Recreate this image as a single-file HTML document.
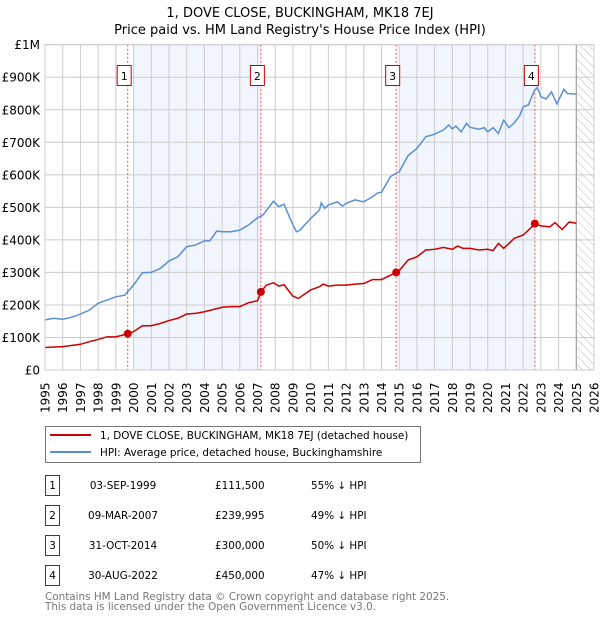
<!DOCTYPE html>
<html><head><meta charset="utf-8"><style>
body{margin:0;background:#fff;font-family:"DejaVu Sans","Liberation Sans",sans-serif;}
#wrap{position:relative;width:600px;height:620px;overflow:hidden;}
</style></head><body>
<div id="wrap">
<svg id="chart" width="600" height="620" xmlns="http://www.w3.org/2000/svg">
<defs><pattern id="hatch" width="6" height="6" patternUnits="userSpaceOnUse" patternTransform="rotate(-45)"><line x1="0" y1="0" x2="0" y2="6" stroke="#bbb" stroke-width="1"/></pattern></defs>
<text x="300" y="17" text-anchor="middle" font-size="13" fill="#000">1, DOVE CLOSE, BUCKINGHAM, MK18 7EJ</text>
<text x="300" y="34" text-anchor="middle" font-size="13" fill="#000">Price paid vs. HM Land Registry's House Price Index (HPI)</text>
<g id="plot"></g>
<g>
<rect x="45.5" y="426.5" width="375" height="36" fill="#fff" stroke="#777"/>
<line x1="50" y1="435" x2="91" y2="435" stroke="#cc0000" stroke-width="2"/>
<text x="100" y="439" font-size="10.4">1, DOVE CLOSE, BUCKINGHAM, MK18 7EJ (detached house)</text>
<line x1="50" y1="452" x2="91" y2="452" stroke="#5b8fd4" stroke-width="2"/>
<text x="100" y="456" font-size="10.4">HPI: Average price, detached house, Buckinghamshire</text>
</g>
<g id="table" font-size="10.4"></g>
<text x="45" y="600" font-size="10.4" fill="#777">Contains HM Land Registry data © Crown copyright and database right 2025.</text>
<text x="45" y="610" font-size="10.4" fill="#777">This data is licensed under the Open Government Licence v3.0.</text>
</svg>
</div>
<script>
const yTicks=[0,100,200,300,400,500,600,700,800,900,1000];
const yTickLabels=["£0","£100K","£200K","£300K","£400K","£500K","£600K","£700K","£800K","£900K","£1M"];
const xYears=[1995,1996,1997,1998,1999,2000,2001,2002,2003,2004,2005,2006,2007,2008,2009,2010,2011,2012,2013,2014,2015,2016,2017,2018,2019,2020,2021,2022,2023,2024,2025,2026];
const hpiT=[1995,1995.5,1996,1996.5,1997,1997.5,1998,1998.5,1999,1999.5,1999.67,2000,2000.5,2001,2001.5,2002,2002.5,2003,2003.5,2004,2004.3,2004.7,2005,2005.5,2006,2006.5,2007,2007.3,2007.6,2007.9,2008.2,2008.5,2008.8,2009,2009.2,2009.4,2010,2010.5,2010.6,2010.8,2011,2011.5,2011.8,2012,2012.5,2013,2013.5,2013.8,2014,2014.5,2014.83,2015,2015.5,2016,2016.5,2017,2017.5,2017.8,2018,2018.2,2018.5,2018.8,2019,2019.5,2019.8,2020,2020.3,2020.6,2020.9,2021.2,2021.5,2021.8,2022,2022.3,2022.6,2022.8,2023,2023.3,2023.6,2023.9,2024.3,2024.5,2025];
const hpiV=[154,159,156,162,172,184,205,215,225,230,241,261,299,300,312,335,348,379,384,397,397,427,425,425,430,446,468,476,497,519,502,510,471,446,425,430,466,492,514,497,507,517,504,512,523,517,533,545,546,594,605,609,659,681,717,725,738,753,741,750,732,758,746,740,745,732,745,727,768,745,760,781,809,815,855,869,840,833,855,818,863,850,848];
const ppT=[1995,1996,1997,1997.5,1998,1998.5,1999,1999.67,2000,2000.5,2001,2001.5,2002,2002.5,2003,2003.5,2004,2004.5,2005,2005.5,2006,2006.5,2007,2007.19,2007.5,2007.9,2008.2,2008.5,2008.8,2009,2009.3,2010,2010.5,2010.7,2011,2011.5,2012,2012.5,2013,2013.5,2014,2014.83,2015,2015.5,2016,2016.5,2017,2017.5,2018,2018.3,2018.6,2019,2019.5,2020,2020.3,2020.6,2020.9,2021.2,2021.5,2022,2022.3,2022.67,2023,2023.5,2023.8,2024.2,2024.6,2025];
const ppV=[69,72,79,87,94,102,102,111.5,118,136,136,143,152,159,172,174,179,186,193,195,195,207,213,240,261,268,258,262,241,227,220,246,256,264,258,261,261,264,266,278,278,300,305,338,348,369,371,377,371,381,374,374,369,371,367,389,374,389,405,415,430,450,443,440,453,432,455,451];
const saleT=[1999.67,2007.19,2014.83,2022.66];
const saleV=[111.5,239.995,300,450];
const saleLabels=["1","2","3","4"];
const saleDates=["03-SEP-1999","09-MAR-2007","31-OCT-2014","30-AUG-2022"];
const salePrices=["£111,500","£239,995","£300,000","£450,000"];
const saleDiffs=["55% ↓ HPI","49% ↓ HPI","50% ↓ HPI","47% ↓ HPI"];
const shadeRanges=[[2000,2007.19],[2015,2022.66]];

const NS="http://www.w3.org/2000/svg";
const X0=45,X1=594,Y0=370,Y1=44.7;
const xS=t=>X0+(t-1995)*(X1-X0)/31;
const yS=v=>Y0-v*(Y0-Y1)/1000;
function mk(tag,attrs,parent){const e=document.createElementNS(NS,tag);for(const k in attrs)e.setAttribute(k,attrs[k]);parent.appendChild(e);return e;}
const g=document.getElementById('plot');
shadeRanges.forEach(r=>{const e=mk('rect',{x:xS(r[0]),y:Y1,width:xS(r[1])-xS(r[0]),height:Y0-Y1,fill:'#eef3fc',opacity:0.8},g);

});
yTicks.forEach((v,i)=>{const l=mk('line',{x1:X0,x2:X1,y1:yS(v),y2:yS(v),stroke:'#ccc'},g);


const t=mk('text',{x:40,y:yS(v)+4.5,'text-anchor':'end','font-size':12},g);t.textContent=yTickLabels[i];

});
xYears.forEach(y=>{const l=mk('line',{x1:xS(y),x2:xS(y),y1:Y1,y2:Y0,stroke:'#ccc'},g);


const t=mk('text',{transform:`translate(${xS(y)+4.5},413) rotate(-90)`,'font-size':12},g);t.textContent=y;

});
const h=mk('rect',{x:xS(2025),y:Y1,width:X1-xS(2025),height:Y0-Y1,fill:'url(#hatch)'},g);


const hl=mk('line',{x1:xS(2025),x2:xS(2025),y1:Y1,y2:Y0,stroke:'#999','stroke-width':1},g);


saleT.forEach((t,i)=>{const l=mk('line',{x1:xS(t),x2:xS(t),y1:Y1,y2:Y0,stroke:'#e55','stroke-dasharray':'2,2','stroke-width':1},g);

});
const hp=mk('polyline',{points:hpiT.map((t,i)=>xS(t)+','+yS(hpiV[i])).join(' '),fill:'none',stroke:'#5b8fd4','stroke-width':1.5},g);


const pp=mk('polyline',{points:ppT.map((t,i)=>xS(t)+','+yS(ppV[i])).join(' '),fill:'none',stroke:'#cc0000','stroke-width':1.5},g);


saleT.forEach((t,i)=>{const c=mk('circle',{cx:xS(t),cy:yS(saleV[i]),r:4,fill:'#cc0000'},g);


const b=mk('rect',{x:xS(t)-10.5,y:65.5,width:14,height:20,fill:'#fff',stroke:'#cc0000'},g);


const tx=mk('text',{x:xS(t)-3.5,y:80,'text-anchor':'middle','font-size':11},g);tx.textContent=saleLabels[i];

});
mk('rect',{x:X0,y:Y1,width:X1-X0,height:Y0-Y1,fill:'none',stroke:'#ccc'},g);
const tb=document.getElementById('table');
saleLabels.forEach((s,i)=>{const cy=485+i*30;
const b=mk('rect',{x:45.5,y:cy-9.5,width:14,height:20,fill:'#fff',stroke:'#cc0000'},tb);


const cells=[[52.5,s,'middle'],[123,saleDates[i],'middle'],[215,salePrices[i],'start'],[311,saleDiffs[i],'start']];
cells.forEach(c=>{const t=mk('text',{x:c[0],y:cy+4,'text-anchor':c[2]},tb);t.textContent=c[1];

});});
</script>
</body></html>
